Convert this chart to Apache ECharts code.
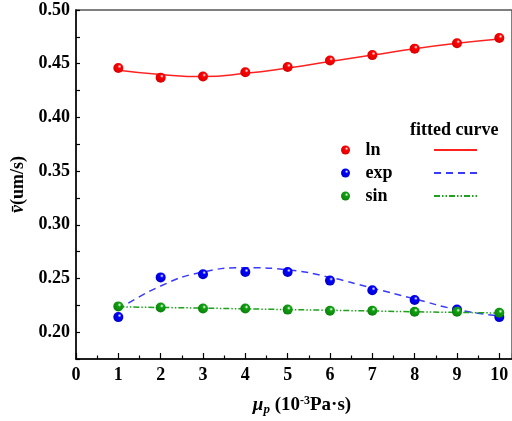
<!DOCTYPE html>
<html><head><meta charset="utf-8">
<script src="https://cdn.jsdelivr.net/npm/echarts@6/dist/echarts.min.js"></script>
<style>html,body{margin:0;padding:0;background:#fff}#c{width:512px;height:421px}</style>
</head><body><div id="c"></div>
<script>
const xValues = [1, 2, 3, 4, 5, 6, 7, 8, 9, 10];
const lnPoints  = [0.446, 0.437, 0.438, 0.442, 0.447, 0.453, 0.458, 0.464, 0.469, 0.474];
const expPoints = [0.214, 0.251, 0.254, 0.256, 0.256, 0.248, 0.239, 0.230, 0.221, 0.214];
const sinPoints = [0.224, 0.223, 0.222, 0.222, 0.221, 0.220, 0.220, 0.219, 0.219, 0.218];
const lnFit  = [0.444, 0.440, 0.438, 0.441, 0.446, 0.452, 0.458, 0.464, 0.469, 0.473];
const expFit = [0.221, 0.243, 0.256, 0.260, 0.258, 0.251, 0.241, 0.231, 0.221, 0.215];
const sinFit = [0.2235, 0.223, 0.2224, 0.2217, 0.221, 0.2204, 0.2197, 0.219, 0.2184, 0.2178];
const seriesNames = ['ln', 'exp', 'sin'];
const fitNames = ['ln fit', 'exp fit', 'sin fit'];

const FONT = '"Liberation Serif", "Times New Roman", serif';
function pairs(ys) { return xValues.map((x, i) => [x, ys[i]]); }
function sphere(c, dark) {
  return { type: 'radial', x: 0.62, y: 0.35, r: 0.75,
    colorStops: [{ offset: 0, color: '#ffffff' }, { offset: 0.25, color: c }, { offset: 1, color: dark }] };
}
const chart = echarts.init(document.getElementById('c'), null, { renderer: 'canvas' });
chart.setOption({
  animation: false,
  backgroundColor: '#fff',
  textStyle: { fontFamily: FONT },
  grid: { left: 76, right: -3, top: 10, bottom: 59, show: true, borderColor: '#555', borderWidth: 1.5, backgroundColor: 'transparent' },
  xAxis: {
    type: 'value', min: 0, max: 10.3, interval: 1,
    name: '{i|μ}{sub|p} (10{sup|-3}Pa·s)',
    nameLocation: 'middle', nameGap: 36,
    nameTextStyle: { fontFamily: FONT, fontWeight: 'bold', fontSize: 19, color: '#000', padding: [0, 0, 0, 16],
      rich: {
        i: { fontFamily: FONT, fontStyle: 'italic', fontWeight: 'bold', fontSize: 19, color: '#000' },
        sub: { fontFamily: FONT, fontStyle: 'italic', fontWeight: 'bold', fontSize: 13, color: '#000', verticalAlign: 'bottom', padding: [8, 0, 0, 0] },
        sup: { fontFamily: FONT, fontWeight: 'bold', fontSize: 12, color: '#000', verticalAlign: 'top', padding: [0, 0, 6, 0] }
      } },
    axisLine: { show: true, onZero: false, lineStyle: { color: '#000', width: 1.5 } },
    axisTick: { show: true, inside: true, length: 6, lineStyle: { color: '#000', width: 1.2 } },
    minorTick: { show: true, splitNumber: 2, length: 3.5, lineStyle: { color: '#000', width: 1.2 } },
    splitLine: { show: false },
    axisLabel: { color: '#000', fontFamily: FONT, fontWeight: 'bold', fontSize: 18, margin: 7, showMaxLabel: false,
      formatter: v => (Math.abs(v - Math.round(v)) < 1e-6 && v <= 10) ? String(Math.round(v)) : '' }
  },
  yAxis: {
    type: 'value', min: 0.175, max: 0.5, interval: 0.025,
    name: '{i|v̄}(um/s)',
    nameLocation: 'middle', nameGap: 42, nameRotate: 90,
    nameTextStyle: { fontFamily: FONT, fontWeight: 'bold', fontSize: 18, color: '#000',
      rich: { i: { fontFamily: FONT, fontStyle: 'italic', fontWeight: 'bold', fontSize: 18, color: '#000' } } },
    axisLine: { show: true, onZero: false, lineStyle: { color: '#000', width: 1.5 } },
    axisTick: { show: true, inside: true, length: 4, lineStyle: { color: '#000', width: 1.2 } },
    splitLine: { show: false },
    axisLabel: { color: '#000', fontFamily: FONT, fontWeight: 'bold', fontSize: 18, margin: 6,
      formatter: v => { const k = Math.round(v * 1000); return (k % 50 === 0 && k >= 200) ? (k / 1000).toFixed(2) : ''; } }
  },
  legend: [
    { data: seriesNames, orient: 'vertical', left: 336, top: 136, itemWidth: 30, itemHeight: 9, itemGap: 5,
      textStyle: { fontFamily: FONT, fontWeight: 'bold', fontSize: 18, lineHeight: 18, color: '#000' } },
    { data: fitNames, orient: 'vertical', left: 428, top: 136, itemWidth: 43, itemHeight: 9, itemGap: 5,
      itemStyle: { opacity: 0 },
      formatter: () => ' ', textStyle: { fontFamily: FONT, fontWeight: 'bold', fontSize: 18, lineHeight: 18 } }
  ],
  graphic: [
    { type: 'text', left: 410, top: 121, style: { text: 'fitted curve', fill: '#000', font: 'bold 18px ' + FONT } }
  ],
  series: [
    { name: 'ln fit', type: 'line', data: pairs(lnFit), smooth: true, symbol: 'none', z: 2,
      lineStyle: { color: '#ff2020', width: 1.5, type: 'solid' }, itemStyle: { color: '#ff2020' } },
    { name: 'exp fit', type: 'line', data: pairs(expFit), smooth: true, symbol: 'none', z: 2,
      lineStyle: { color: '#3a3aff', width: 1.5, type: [7, 5] }, itemStyle: { color: '#3a3aff' } },
    { name: 'sin fit', type: 'line', data: pairs(sinFit), smooth: false, symbol: 'none', z: 2,
      lineStyle: { color: '#1fa01f', width: 1.5, type: [6, 2, 1.5, 2, 1.5, 2] }, itemStyle: { color: '#1fa01f' } },
    { name: 'ln', type: 'scatter', data: pairs(lnPoints), symbolSize: 10, z: 5,
      itemStyle: { color: sphere('#ff0000', '#d00000'), opacity: 1 } },
    { name: 'exp', type: 'scatter', data: pairs(expPoints), symbolSize: 10, z: 5,
      itemStyle: { color: sphere('#0000ff', '#0000c0'), opacity: 1 } },
    { name: 'sin', type: 'scatter', data: pairs(sinPoints), symbolSize: 10, z: 5,
      itemStyle: { color: sphere('#10a010', '#0a7a0a'), opacity: 1 } }
  ]
});
</script></body></html>
